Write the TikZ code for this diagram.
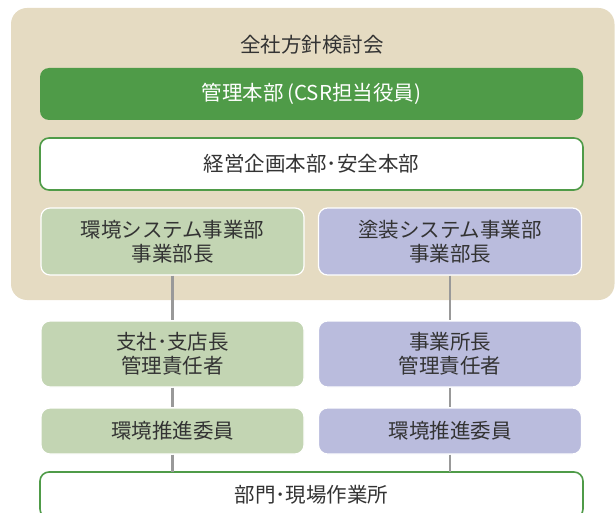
\documentclass[tikz,border=0pt]{standalone}
\usepackage{fontspec}
\setmainfont{Noto Sans CJK JP}
\usetikzlibrary{positioning}
\definecolor{beige}{HTML}{E5DBC2}
\definecolor{darkgreen}{HTML}{4F9B48}
\definecolor{paleGreen}{HTML}{C3D5B3}
\definecolor{palePurple}{HTML}{BABCDD}
\definecolor{textgray}{HTML}{333333}

\begin{document}
\begin{tikzpicture}[x=1pt,y=-1pt,
    every node/.style={inner sep=0pt, align=center, text=textgray,
      font=\fontsize{20.5}{24}\selectfont},
    wide/.style={rounded corners=9pt, minimum width=543pt, minimum height=52pt},
    half/.style={rounded corners=9pt, minimum width=263pt, draw=white, line width=1.2pt},
    greenline/.style={draw=darkgreen, line width=1.6pt, fill=white},
    link/.style={draw=gray!80, line width=2.5pt}]
  \useasboundingbox (0,0) rectangle (615,513);
  \fill[beige, rounded corners=16pt] (11,8) rectangle (614.5,300);
  \node (title) at (312,45) {全社方針検討会};
  \node[wide, fill=darkgreen, text=white] (csr) at (311.5,94) {管理本部\,(CSR担当役員)};
  \node[wide, greenline] (plan) at (311.5,164) {経営企画本部･安全本部};

  % left column
  \node[half, fill=paleGreen, minimum height=67pt] (envHead) at (172.5,241.5)
    {環境システム事業部\\事業部長};
  \node[half, fill=paleGreen, minimum height=66pt] (envBranch) at (172.5,354)
    {支社･支店長\\管理責任者};
  \node[half, fill=paleGreen, minimum height=46pt] (envStaff) at (172.5,431)
    {環境推進委員};

  % right column
  \node[half, fill=palePurple, minimum height=67pt] (coatHead) at (450,241.5)
    {塗装システム事業部\\事業部長};
  \node[half, fill=palePurple, minimum height=66pt] (coatOffice) at (450,354)
    {事業所長\\管理責任者};
  \node[half, fill=palePurple, minimum height=46pt] (coatStaff) at (450,431)
    {環境推進委員};

  \node[wide, greenline, minimum height=46pt] (site) at (311.5,495)
    {部門･現場作業所};
  \coordinate (siteL) at (172.5,472);
  \coordinate (siteR) at (450,472);

  \draw[link] (envHead) -- (envBranch);
  \draw[link] (envBranch) -- (envStaff);
  \draw[link] (envStaff) -- (siteL);
  \draw[link] (coatHead) -- (coatOffice);
  \draw[link] (coatOffice) -- (coatStaff);
  \draw[link] (coatStaff) -- (siteR);
\end{tikzpicture}
\end{document}
